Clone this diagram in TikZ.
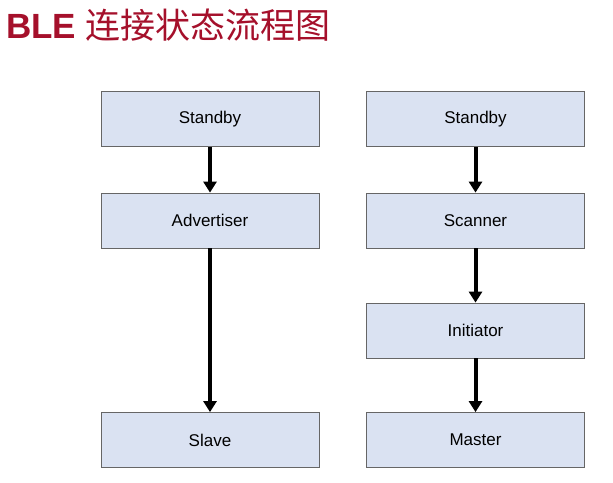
\documentclass[tikz,border=0pt]{standalone}
\usepackage{fontspec}
\setmainfont{Liberation Sans}
\newfontfamily\cjk{Noto Sans CJK SC}
\usetikzlibrary{arrows.meta}
\definecolor{boxfill}{HTML}{DAE2F2}
\definecolor{titlered}{HTML}{A5102B}
\begin{document}
\begin{tikzpicture}[x=1pt,y=-1pt,
  box/.style={draw=gray!80!black,fill=boxfill,line width=0.8pt,minimum width=218pt,minimum height=55pt,inner sep=0pt,font=\fontsize{17}{20}\selectfont},
  arr/.style={line width=4pt,-{Triangle[length=11pt,width=13pt]}}]
\useasboundingbox (0,0) rectangle (613,482);
\node[anchor=west,text=titlered,inner sep=0pt] (title) at (6,25) {\fontsize{35}{40}\selectfont\textbf{BLE} \cjk 连接状态流程图};
\node[box] (s1) at (210,119) {Standby};
\node[box] (adv) at (210,220.5) {Advertiser};
\node[box] (slave) at (210,440) {Slave};
\node[box] (s2) at (475.5,119) {Standby};
\node[box] (scan) at (475.5,220.5) {Scanner};
\node[box] (init) at (475.5,330.5) {Initiator};
\node[box] (master) at (475.5,440) {Master};
\draw[arr] (s1) -- (adv);
\draw[arr] (adv) -- (slave);
\draw[arr] (s2) -- (scan);
\draw[arr] (scan) -- (init);
\draw[arr] (init) -- (master);
\end{tikzpicture}
\end{document}
